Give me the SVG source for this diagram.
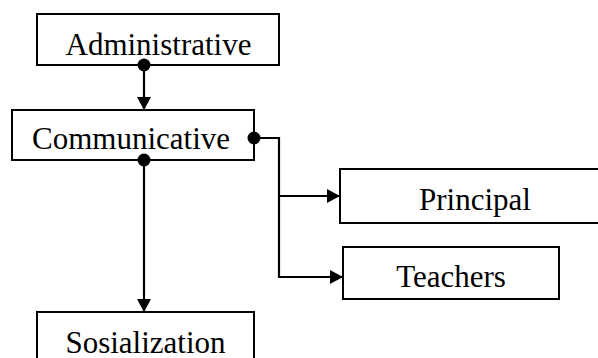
<svg xmlns="http://www.w3.org/2000/svg" width="598" height="358" viewBox="0 0 598 358">
<defs>
<marker id="arr" markerWidth="13" markerHeight="14" refX="13" refY="7" orient="auto" markerUnits="userSpaceOnUse">
<path d="M0,0 L13,7 L0,14 Z" fill="#000"/>
</marker>
</defs>
<style>
.box{fill:#fff;stroke:#000;stroke-width:2}
.lbl{font-family:"Liberation Serif","Times New Roman",serif;font-size:31px;fill:#000;text-anchor:middle}
.ln{fill:none;stroke:#000;stroke-width:2.2}
.dot{fill:#000}
</style>
<rect width="598" height="358" fill="#fff"/>
<g id="administrative">
<rect class="box" x="37" y="14" width="242" height="51"/>
<text class="lbl" x="158.5" y="55">Administrative</text>
</g>
<g id="communicative">
<rect class="box" x="12" y="110" width="242" height="50"/>
<text class="lbl" x="131" y="149">Communicative</text>
</g>
<g id="principal">
<rect class="box" x="340" y="169" width="262" height="54"/>
<text class="lbl" x="475" y="210">Principal</text>
</g>
<g id="teachers">
<rect class="box" x="343" y="247" width="216" height="52"/>
<text class="lbl" x="451" y="287">Teachers</text>
</g>
<g id="sosialization">
<rect class="box" x="37" y="312" width="217" height="60"/>
<text class="lbl" x="145.5" y="353">Sosialization</text>
</g>
<g id="connectors">
<path class="ln" d="M144,65 V110" marker-end="url(#arr)"/>
<path class="ln" d="M144,160 V312" marker-end="url(#arr)"/>
<path class="ln" d="M254,138 H279 V277 H343" marker-end="url(#arr)"/>
<path class="ln" d="M279,196 H340" marker-end="url(#arr)"/>
<circle class="dot" cx="144" cy="65" r="6.5"/>
<circle class="dot" cx="144" cy="160" r="6.5"/>
<circle class="dot" cx="254" cy="138" r="6.5"/>
</g>
</svg>
